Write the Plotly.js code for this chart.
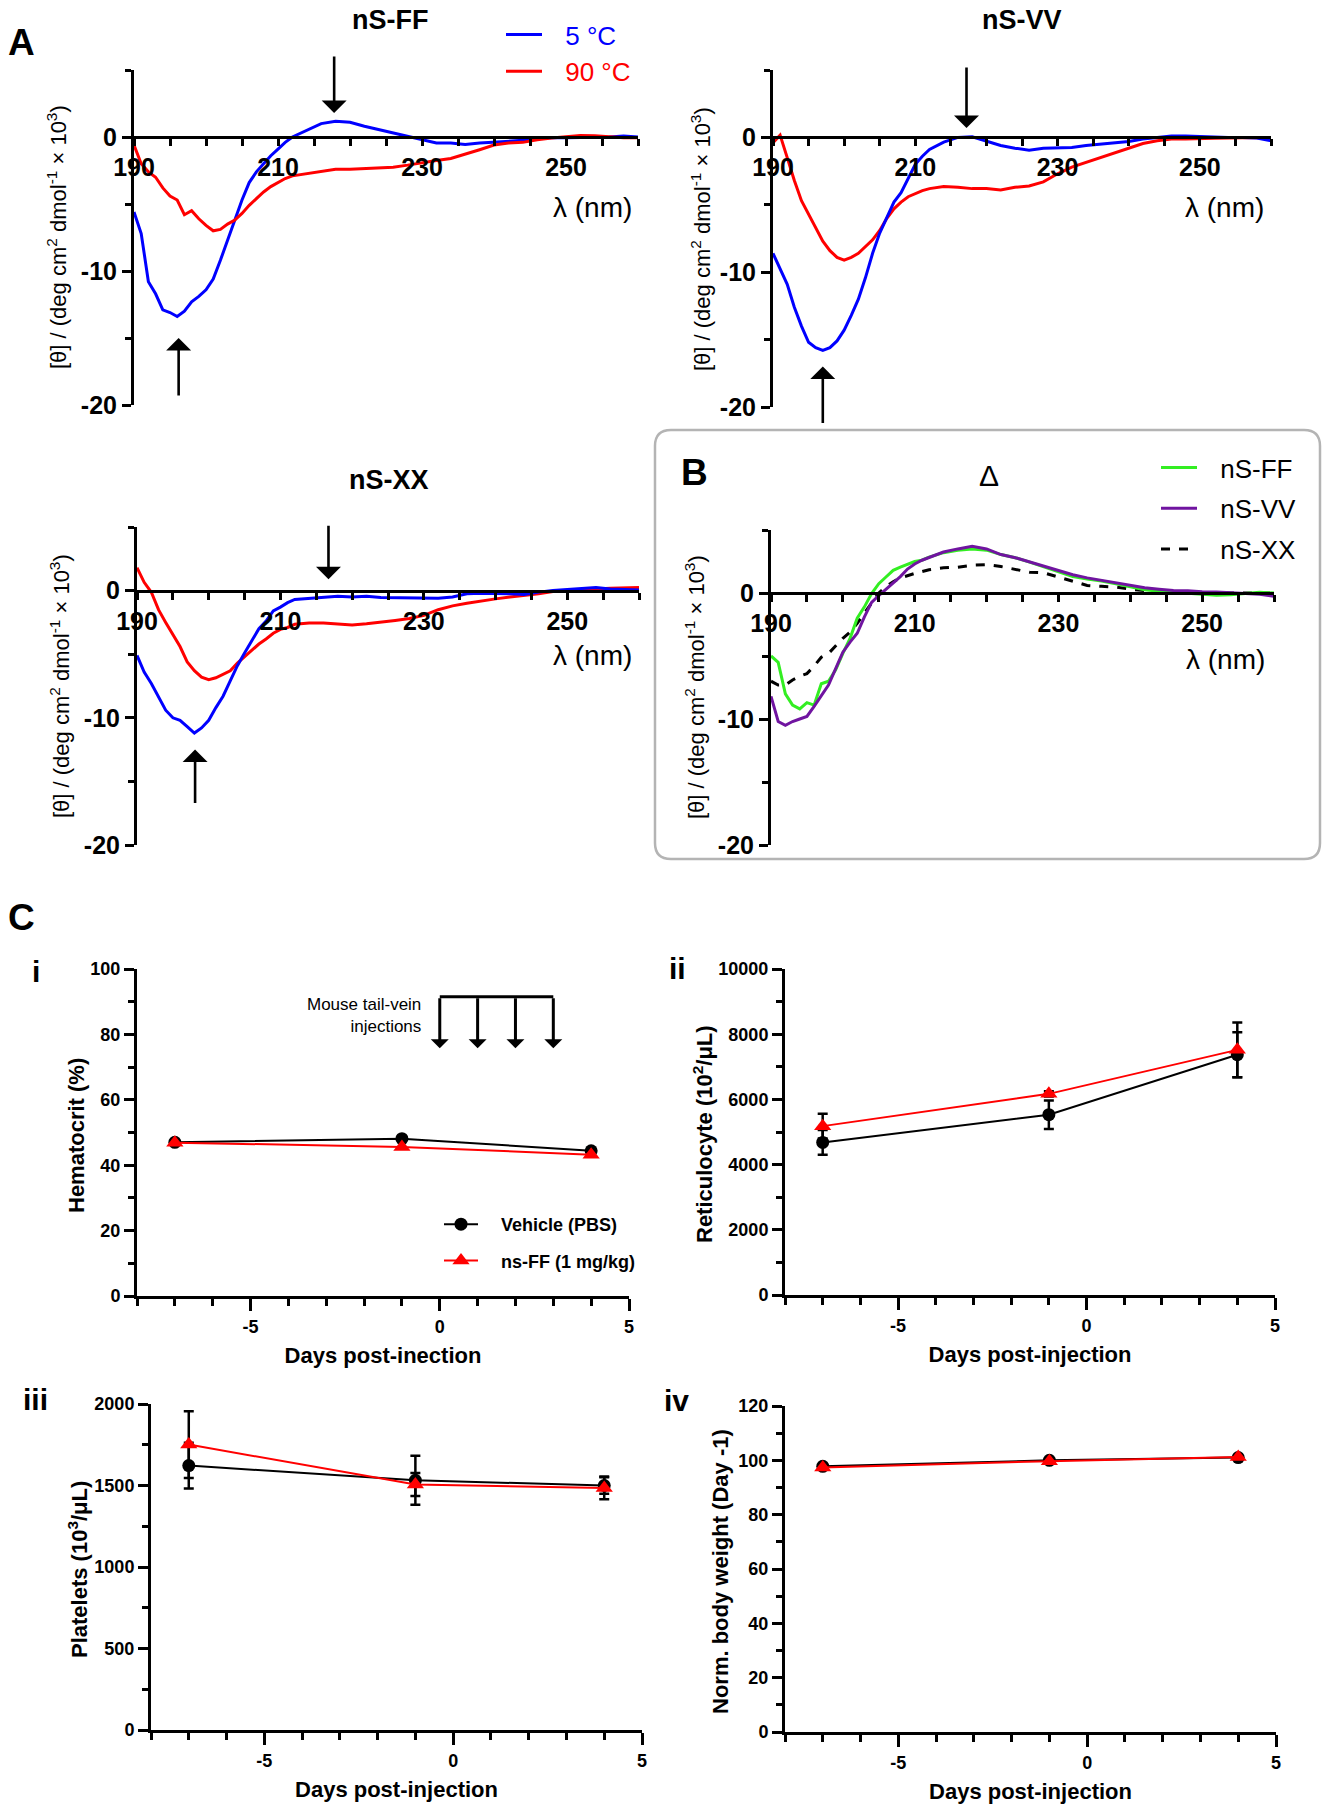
<!DOCTYPE html>
<html>
<head>
<meta charset="utf-8">
<script src="https://cdn.plot.ly/plotly-3.0.1.min.js"></script>
<style>
  html, body { margin: 0; padding: 0; background: white; }
  #fig { width: 1327px; height: 1810px; }
</style>
</head>
<body>
<div id="fig"></div>
<script>
// CD spectra (A, B) and blood / weight panels (C), one Plotly figure with 8 subplots.

// ── wavelength grid (nm) ──
const WL = [190, 191, 192, 193, 194, 195, 196, 197, 198, 199, 200, 201, 202, 203, 204, 205,
  206, 207, 208, 209, 210, 211, 212, 214, 216, 218, 220, 222, 224, 226, 228, 230, 232, 234,
  236, 238, 240, 242, 244, 246, 248, 250, 252, 254, 256, 258, 260];

// ── A: mean residue ellipticity, x 10^3 ──
const FF_5C = [-5.6, -7.2, -10.8, -11.7, -12.9, -13.1, -13.4, -13.0, -12.3, -11.9, -11.4, -10.6,
  -9.2, -7.7, -6.2, -4.7, -3.4, -2.6, -2.0, -1.4, -0.9, -0.4, 0.0, 0.5, 1.0, 1.17, 1.1, 0.8,
  0.55, 0.3, 0.0, -0.25, -0.45, -0.45, -0.55, -0.45, -0.4, -0.35, -0.25, -0.12, -0.05, -0.05,
  -0.05, -0.05, 0.0, 0.08, 0.0];
const FF_90C = [-0.6, -2.0, -2.6, -3.0, -3.8, -4.4, -4.7, -5.8, -5.5, -6.1, -6.6, -7.0, -6.9,
  -6.5, -6.2, -5.7, -5.1, -4.6, -4.1, -3.7, -3.4, -3.1, -2.9, -2.75, -2.55, -2.4, -2.4, -2.35,
  -2.3, -2.25, -2.1, -1.9, -1.75, -1.6, -1.3, -0.95, -0.6, -0.45, -0.4, -0.2, -0.07, 0.05,
  0.12, 0.1, 0.0, -0.05, -0.05];
const VV_5C = [-8.6, -9.7, -10.9, -12.6, -14.0, -15.2, -15.6, -15.8, -15.6, -15.1, -14.3, -13.2,
  -12.0, -10.4, -8.6, -7.1, -5.9, -4.8, -4.1, -3.1, -2.0, -1.4, -0.9, -0.35, 0.0, 0.05, -0.25,
  -0.6, -0.8, -0.95, -0.8, -0.8, -0.75, -0.6, -0.5, -0.4, -0.3, -0.12, 0.0, 0.1, 0.1, 0.07,
  0.0, 0.0, 0.0, -0.05, -0.25];
const VV_90C = [-0.4, 0.17, -1.5, -3.2, -4.7, -5.7, -6.8, -7.7, -8.4, -8.9, -9.1, -8.9, -8.6,
  -8.1, -7.6, -6.9, -6.0, -5.3, -4.8, -4.4, -4.15, -3.95, -3.8, -3.65, -3.7, -3.8, -3.8, -3.9,
  -3.7, -3.6, -3.3, -2.7, -2.2, -1.85, -1.45, -1.1, -0.75, -0.45, -0.25, -0.12, -0.12, -0.07,
  -0.07, -0.05, 0.0, 0.0, -0.05];
const XX_5C = [-5.1, -6.4, -7.3, -8.3, -9.4, -10.0, -10.2, -10.7, -11.2, -10.8, -10.2, -9.2,
  -8.3, -7.1, -5.9, -4.9, -3.9, -3.0, -2.4, -1.6, -1.3, -0.95, -0.7, -0.6, -0.5, -0.45, -0.5,
  -0.45, -0.55, -0.55, -0.6, -0.6, -0.6, -0.5, -0.25, -0.2, -0.2, -0.25, -0.3, -0.12, 0.0,
  0.08, 0.2, 0.25, 0.12, 0.08, 0.05];
const XX_90C = [1.8, 0.65, -0.13, -1.5, -2.5, -3.4, -4.4, -5.6, -6.3, -6.8, -7.0, -6.85, -6.6,
  -6.3, -5.7, -5.2, -4.7, -4.2, -3.8, -3.35, -3.05, -2.9, -2.65, -2.55, -2.55, -2.6, -2.7,
  -2.6, -2.5, -2.35, -2.2, -1.95, -1.5, -1.2, -1.0, -0.8, -0.65, -0.5, -0.4, -0.25, -0.08,
  0.0, 0.08, 0.12, 0.18, 0.2, 0.25];

// ── B: difference spectra (5 °C - 90 °C) ──
const D_FF = [-5.0, -5.5, -8.0, -8.9, -9.2, -8.7, -8.9, -7.2, -7.0, -6.1, -4.8, -3.6, -2.0,
  -1.1, -0.05, 0.74, 1.27, 1.8, 2.06, 2.3, 2.5, 2.6, 2.85, 3.2, 3.4, 3.5, 3.4, 3.05, 2.8,
  2.45, 2.05, 1.65, 1.3, 1.1, 0.95, 0.74, 0.5, 0.25, 0.13, 0.05, -0.05, -0.13, -0.18, -0.13,
  -0.05, 0.05, 0.0];
const D_VV = [-8.2, -10.2, -10.5, -10.2, -10.0, -9.8, -9.0, -8.1, -7.3, -6.0, -4.7, -3.9,
  -3.2, -1.9, -0.75, -0.2, 0.3, 0.8, 1.3, 1.9, 2.3, 2.6, 2.8, 3.25, 3.5, 3.7, 3.5, 3.05, 2.8,
  2.45, 2.1, 1.8, 1.45, 1.2, 1.0, 0.8, 0.6, 0.42, 0.3, 0.2, 0.18, 0.1, 0.08, 0.03, 0.0, -0.1,
  -0.26];
const D_XX = [-7.0, -7.3, -7.3, -6.9, -6.6, -6.4, -5.8, -5.1, -4.8, -4.2, -3.6, -3.1, -2.4,
  -1.6, -0.8, 0.0, 0.5, 0.9, 1.2, 1.4, 1.55, 1.7, 1.85, 2.0, 2.05, 2.2, 2.25, 2.1, 1.85, 1.65,
  1.6, 1.27, 0.92, 0.6, 0.53, 0.47, 0.3, 0.2, 0.16, 0.08, 0.03, 0.0, 0.03, 0.0, 0.0, 0.0, 0.0];

// arrows in A: [wavelength, tip value, tail offset px]
const FF_ARROWS = [[217.8, 1.8, -58], [196.2, -15.0, 59]];
const VV_ARROWS = [[217.2, 0.7, -62], [197.0, -17.0, 58]];
const XX_ARROWS = [[216.7, 0.9, -55], [198.1, -12.5, 55]];

// ── C: mouse blood counts ──
const DAYS = [-7, -1, 4];
const INJECTION_DAYS = [0, 1, 2, 3];
const HCT_VEH = [47.0, 48.1, 44.4];
const HCT_FF = [46.9, 45.6, 43.2];
const RET_VEH = [4680, 5530, 7370];
const RET_VEH_ERR = [380, 440, 690];
const RET_FF = [5180, 6170, 7520];
const RET_FF_ERR = [380, 80, 840];
const PLT_VEH = [1622, 1532, 1500];
const PLT_VEH_ERR = [140, 150, 50];
const PLT_FF = [1751, 1506, 1485];
const PLT_FF_ERR = [205, 70, 70];
const BW_VEH = [97.8, 100.0, 101.0];
const BW_FF = [97.4, 99.7, 101.2];

// tick labels
const CD_XTICKS = [190, 210, 230, 250];
const CD_YTICKS = [-20, -10, 0];
const CD_YTEXT = ["-20", "-10", "0"];
const DAY_TICKS = [-5, 0, 5];
const DAY_TEXT = ["-5", "0", "5"];
const HCT_TICKS = [0, 20, 40, 60, 80, 100];
const RET_TICKS = [0, 2000, 4000, 6000, 8000, 10000];
const PLT_TICKS = [0, 500, 1000, 1500, 2000];
const BW_TICKS = [0, 20, 40, 60, 80, 100, 120];

const W = 1327, H = 1810;
const FONT = "Liberation Sans, Arial, sans-serif";
const BLUE = "#0000ff", RED = "#ff0000", GREEN = "#33ee22", PURPLE = "#7014a0";
const GAP = "\u2002\u2009"; // space between legend line and label
const px = (x) => x / W;
const py = (y) => 1 - y / H;

// plot boxes in page pixels: [left, right, top, bottom]
const BOX = {
  ff: [134, 638, 70, 405],
  vv: [773, 1271, 70, 407],
  xx: [137, 639, 527, 845],
  dl: [771, 1274, 530, 845],
  c1: [137, 629, 969, 1296],
  c2: [785, 1275, 969, 1295],
  c3: [151, 642, 1404, 1730],
  c4: [785, 1276, 1406, 1732],
};

const CD_RANGE = [-20, 5];
const bold = (size) => ({ family: FONT, size, color: "black", weight: "bold" });
const plain = (size, color) => ({ family: FONT, size, color: color || "black" });

function dom(b) {
  return { x: [px(b[0]), px(b[1])], y: [py(b[3]), py(b[2])] };
}

function cdAxes(n, b) {
  const d = dom(b);
  const zeroPos = d.y[0] + (0 - CD_RANGE[0]) / (CD_RANGE[1] - CD_RANGE[0]) * (d.y[1] - d.y[0]);
  const common = { showline: true, linewidth: 3, linecolor: "black", ticks: "outside",
    ticklen: 7, tickwidth: 3, tickcolor: "black", showgrid: false, zeroline: false,
    tickfont: bold(25), fixedrange: true };
  return {
    x: { ...common, domain: d.x, range: [190, 260], anchor: "free", position: zeroPos,
      tickmode: "array", tickvals: CD_XTICKS,
      minor: { tickmode: "linear", tick0: 190, dtick: 5, ticks: "outside", ticklen: 7,
        tickwidth: 3, tickcolor: "black" } },
    y: { ...common, domain: d.y, range: CD_RANGE, anchor: "x" + (n === 1 ? "" : n),
      tickmode: "array", tickvals: CD_YTICKS, ticktext: CD_YTEXT, ticklen: 9,
      minor: { tickmode: "linear", tick0: 0, dtick: 5, ticks: "outside", ticklen: 6,
        tickwidth: 3, tickcolor: "black" } },
  };
}

function cAxes(n, b, ticks, minorStep, xTitle) {
  const d = dom(b);
  const common = { showline: true, linewidth: 3, linecolor: "black", ticks: "outside",
    tickwidth: 3, tickcolor: "black", showgrid: false, zeroline: false,
    tickfont: bold(18), fixedrange: true };
  return {
    x: { ...common, domain: d.x, range: [-8, 5], anchor: "y" + n, ticklen: 12,
      tickmode: "array", tickvals: DAY_TICKS, ticktext: DAY_TEXT,
      title: { text: xTitle, font: bold(22), standoff: 13 },
      minor: { tickmode: "linear", tick0: 0, dtick: 1, ticks: "outside", ticklen: 7,
        tickwidth: 3, tickcolor: "black" } },
    y: { ...common, domain: d.y, range: [ticks[0], ticks[ticks.length - 1]], anchor: "x" + n,
      ticklen: 10, tickmode: "array", tickvals: ticks, ticktext: ticks.map(String),
      minor: { tickmode: "linear", tick0: 0, dtick: minorStep, ticks: "outside", ticklen: 6,
        tickwidth: 3, tickcolor: "black" } },
  };
}

function cdLine(n, y, color, extra) {
  const s = n === 1 ? "" : n;
  return { type: "scatter", mode: "lines", x: WL, y, xaxis: "x" + s, yaxis: "y" + s,
    line: { color, width: 3 }, showlegend: false, hoverinfo: "skip", ...extra };
}

function cSeries(n, y, err, isFF, extra) {
  const t = { type: "scatter", mode: "lines+markers", x: DAYS, y, xaxis: "x" + n, yaxis: "y" + n,
    line: { color: isFF ? RED : "black", width: 2 },
    marker: isFF ? { symbol: "triangle-up", size: 15, color: RED }
                 : { symbol: "circle", size: 13, color: "black" },
    showlegend: false, hoverinfo: "skip", legendgroup: isFF ? "nsff" : "veh", ...extra };
  if (err) t.error_y = { type: "data", array: err, visible: true, color: "black",
    thickness: 2.5, width: 5 };
  return t;
}

const data = [
  cdLine(1, FF_5C, BLUE, { name: GAP + '<span style="color:' + BLUE + '">5 °C</span>',
    showlegend: true, legend: "legend", legendgroup: "c5" }),
  cdLine(1, FF_90C, RED, { name: GAP + '<span style="color:' + RED + '">90 °C</span>',
    showlegend: true, legend: "legend", legendgroup: "c90" }),
  cdLine(2, VV_90C, RED), cdLine(2, VV_5C, BLUE),
  cdLine(3, XX_90C, RED), cdLine(3, XX_5C, BLUE),
  cdLine(4, D_XX, "black", { name: GAP + "nS-XX", showlegend: true, legend: "legend2",
    legendgroup: "bxx", line: { color: "black", width: 3, dash: "dash" }, legendrank: 3 }),
  cdLine(4, D_FF, GREEN, { name: GAP + "nS-FF", showlegend: true, legend: "legend2",
    legendgroup: "bff", legendrank: 1 }),
  cdLine(4, D_VV, PURPLE, { name: GAP + "nS-VV", showlegend: true, legend: "legend2",
    legendgroup: "bvv", legendrank: 2 }),
  cSeries(5, HCT_VEH, null, false, { name: "\u2003Vehicle (PBS)", showlegend: true,
    legend: "legend3" }),
  cSeries(5, HCT_FF, null, true, { name: "\u2003ns-FF (1 mg/kg)", showlegend: true,
    legend: "legend3" }),
  cSeries(6, RET_VEH, RET_VEH_ERR, false), cSeries(6, RET_FF, RET_FF_ERR, true),
  cSeries(7, PLT_VEH, PLT_VEH_ERR, false), cSeries(7, PLT_FF, PLT_FF_ERR, true),
  cSeries(8, BW_VEH, null, false), cSeries(8, BW_FF, null, true),
];

const axFF = cdAxes(1, BOX.ff), axVV = cdAxes(2, BOX.vv);
const axXX = cdAxes(3, BOX.xx), axDL = cdAxes(4, BOX.dl);
const ax5 = cAxes(5, BOX.c1, HCT_TICKS, 10, "Days post-inection");
const ax6 = cAxes(6, BOX.c2, RET_TICKS, 1000, "Days post-injection");
const ax7 = cAxes(7, BOX.c3, PLT_TICKS, 250, "Days post-injection");
const ax8 = cAxes(8, BOX.c4, BW_TICKS, 10, "Days post-injection");

function note(text, x, y, font, extra) {
  return { xref: "paper", yref: "paper", x: px(x), y: py(y), text, showarrow: false, font,
    xanchor: "center", yanchor: "middle", ...extra };
}

function cdArrows(n, list) {
  const s = n === 1 ? "" : n;
  return list.map(([nm, v, off]) => ({ xref: "x" + s, yref: "y" + s, x: nm, y: v,
    ax: 0, ay: off, text: "", showarrow: true, arrowhead: 1, arrowsize: 1.6,
    arrowwidth: 2.6, arrowcolor: "black", standoff: 0 }));
}

const CD_TITLE = "[θ] / (deg cm<sup>2</sup> dmol<sup>-1</sup> × 10<sup>3</sup>)";
const vtitle = (text, x, y, font) => note(text, x, y, font, { textangle: -90 });

const annotations = [
  note("A", 6, 43, bold(37), { xanchor: "left" }),
  note("B", 679, 472, bold(37), { xanchor: "left" }),
  note("C", 6, 917, bold(37), { xanchor: "left" }),
  note("i", 30, 971, bold(30), { xanchor: "left" }),
  note("ii", 667, 969, bold(30), { xanchor: "left" }),
  note("iii", 21, 1399, bold(30), { xanchor: "left" }),
  note("iv", 662, 1400, bold(30), { xanchor: "left" }),
  note("nS-FF", 390, 20, bold(27)),
  note("nS-VV", 1022, 20, bold(27)),
  note("nS-XX", 389, 480, bold(27)),
  note("Δ", 989, 475, plain(30)),
  note("λ (nm)", 592, 207, plain(28)),
  note("λ (nm)", 1224, 207, plain(28)),
  note("λ (nm)", 592, 655, plain(28)),
  note("λ (nm)", 1225, 659, plain(28)),
  vtitle(CD_TITLE, 57, 237, plain(22)),
  vtitle(CD_TITLE, 701, 239, plain(22)),
  vtitle(CD_TITLE, 60, 686, plain(22)),
  vtitle(CD_TITLE, 695, 687, plain(22)),
  vtitle("Hematocrit (%)", 76, 1136, bold(22)),
  vtitle("Reticulocyte (10<sup>2</sup>/μL)", 703, 1134, bold(22)),
  vtitle("Platelets (10<sup>3</sup>/μL)", 78, 1570, bold(22)),
  vtitle("Norm. body weight (Day -1)", 720, 1572, bold(22)),
  { xref: "x5", yref: "y5", x: -0.45, y: 85.9, text: "Mouse tail-vein<br>injections",
    showarrow: false, xanchor: "right", yanchor: "middle", align: "right", font: plain(17) },
  ...cdArrows(1, FF_ARROWS), ...cdArrows(2, VV_ARROWS), ...cdArrows(3, XX_ARROWS),
  ...INJECTION_DAYS.map((d) => ({ xref: "x5", yref: "y5", x: d, y: 75.8, axref: "x5",
    ayref: "y5", ax: d, ay: 91.5, text: "", showarrow: true, arrowhead: 1, arrowsize: 1.0,
    arrowwidth: 3, arrowcolor: "black", standoff: 0 })),
];

// rounded frame around panel B
function roundedRect(l, t, r, b, rad) {
  const X = (v) => px(v).toFixed(5), Y = (v) => py(v).toFixed(5);
  return "M" + X(l + rad) + "," + Y(t) + " L" + X(r - rad) + "," + Y(t) +
    " Q" + X(r) + "," + Y(t) + " " + X(r) + "," + Y(t + rad) +
    " L" + X(r) + "," + Y(b - rad) + " Q" + X(r) + "," + Y(b) + " " + X(r - rad) + "," + Y(b) +
    " L" + X(l + rad) + "," + Y(b) + " Q" + X(l) + "," + Y(b) + " " + X(l) + "," + Y(b - rad) +
    " L" + X(l) + "," + Y(t + rad) + " Q" + X(l) + "," + Y(t) + " " + X(l + rad) + "," + Y(t) + " Z";
}

const shapes = [
  { type: "path", xref: "paper", yref: "paper", path: roundedRect(655, 430, 1320, 859, 16),
    line: { color: "#b4b4b4", width: 2.5 } },
  { type: "line", xref: "x5", yref: "y5", x0: INJECTION_DAYS[0], x1: INJECTION_DAYS[3],
    y0: 91.5, y1: 91.5, line: { color: "black", width: 3 } },
];

const legendBase = { xanchor: "left", yanchor: "top", bgcolor: "rgba(0,0,0,0)",
  borderwidth: 0, traceorder: "grouped", itemclick: false, itemdoubleclick: false };

const layout = {
  width: W, height: H,
  margin: { l: 0, r: 0, t: 0, b: 0 },
  paper_bgcolor: "white", plot_bgcolor: "white",
  font: { family: FONT, color: "black" },
  hovermode: false,
  xaxis: axFF.x, yaxis: axFF.y,
  xaxis2: axVV.x, yaxis2: axVV.y,
  xaxis3: axXX.x, yaxis3: axXX.y,
  xaxis4: axDL.x, yaxis4: axDL.y,
  xaxis5: ax5.x, yaxis5: ax5.y,
  xaxis6: ax6.x, yaxis6: ax6.y,
  xaxis7: ax7.x, yaxis7: ax7.y,
  xaxis8: ax8.x, yaxis8: ax8.y,
  legend: { ...legendBase, x: px(501), y: py(11), font: plain(26), tracegroupgap: 0,
    itemwidth: 36 },
  legend2: { ...legendBase, x: px(1156), y: py(444), font: plain(26), tracegroupgap: 4,
    itemwidth: 36 },
  legend3: { ...legendBase, x: px(439), y: py(1206), font: bold(18), tracegroupgap: 10,
    itemwidth: 34 },
  annotations,
  shapes,
};

Plotly.newPlot("fig", data, layout, { displayModeBar: false, staticPlot: true });
</script>
</body>
</html>
